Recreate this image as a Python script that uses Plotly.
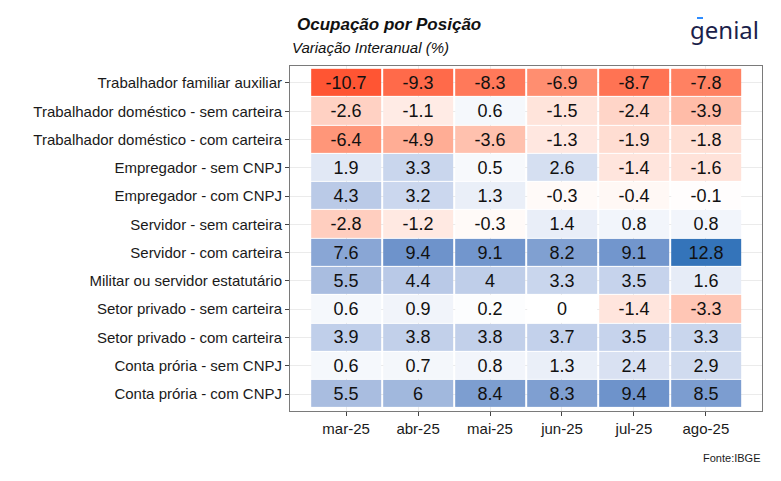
import plotly.graph_objects as go

months = ["mar-25", "abr-25", "mai-25", "jun-25", "jul-25", "ago-25"]

categories = [
    "Trabalhador familiar auxiliar",
    "Trabalhador doméstico - sem carteira",
    "Trabalhador doméstico - com carteira",
    "Empregador - sem CNPJ",
    "Empregador - com CNPJ",
    "Servidor - sem carteira",
    "Servidor - com carteira",
    "Militar ou servidor estatutário",
    "Setor privado - sem carteira",
    "Setor privado - com carteira",
    "Conta prória - sem CNPJ",
    "Conta prória - com CNPJ",
]

familiar_auxiliar = [-10.7, -9.3, -8.3, -6.9, -8.7, -7.8]
domestico_sem = [-2.6, -1.1, 0.6, -1.5, -2.4, -3.9]
domestico_com = [-6.4, -4.9, -3.6, -1.3, -1.9, -1.8]
empregador_sem = [1.9, 3.3, 0.5, 2.6, -1.4, -1.6]
empregador_com = [4.3, 3.2, 1.3, -0.3, -0.4, -0.1]
servidor_sem = [-2.8, -1.2, -0.3, 1.4, 0.8, 0.8]
servidor_com = [7.6, 9.4, 9.1, 8.2, 9.1, 12.8]
militar = [5.5, 4.4, 4, 3.3, 3.5, 1.6]
privado_sem = [0.6, 0.9, 0.2, 0, -1.4, -3.3]
privado_com = [3.9, 3.8, 3.8, 3.7, 3.5, 3.3]
conta_propria_sem = [0.6, 0.7, 0.8, 1.3, 2.4, 2.9]
conta_propria_com = [5.5, 6, 8.4, 8.3, 9.4, 8.5]

z = [familiar_auxiliar, domestico_sem, domestico_com, empregador_sem,
     empregador_com, servidor_sem, servidor_com, militar, privado_sem,
     privado_com, conta_propria_sem, conta_propria_com]
text = [[f"{v:g}" for v in row] for row in z]

lim = max(abs(v) for row in z for v in row)

colorscale = [
    [0.0, "#FF4A22"],
    [0.082, "#FF5533"],
    [0.23, "#FF8E70"],
    [0.348, "#FFBCA8"],
    [0.44, "#FFE3DA"],
    [0.5, "#FFFFFF"],
    [0.574, "#E1E8F5"],
    [0.637, "#C6D3EC"],
    [0.715, "#A9BDE0"],
    [0.867, "#6E93CB"],
    [1.0, "#3474BA"],
]

W, H = 781, 481
l, r, t, b = 290, 19, 66, 70
pw, ph = W - l - r, H - t - b


def px(x):
    return (x - l) / pw


def py(y):
    return 1 - (y - t) / ph


fig = go.Figure(go.Heatmap(
    x=months, y=categories, z=z, text=text, texttemplate="%{text}",
    textfont=dict(family="Liberation Sans, Arial", size=18, color="#111111"),
    colorscale=colorscale, zmin=-lim, zmax=lim, showscale=False,
    xgap=2, ygap=1, hoverinfo="skip",
))

fig.update_layout(
    width=W, height=H,
    margin=dict(l=l, r=r, t=t, b=b),
    paper_bgcolor="white", plot_bgcolor="white",
    font=dict(family="Liberation Sans, Arial", color="#1a1a1a"),
    xaxis=dict(
        range=[-0.78, len(months) - 0.22], showgrid=True, gridcolor="#EBEBEB",
        showline=True, linecolor="#7a7a7a", linewidth=1, mirror=True,
        ticks="outside", ticklen=4, tickcolor="#444444",
        tickfont=dict(size=15, color="#1a1a1a"), zeroline=False,
    ),
    yaxis=dict(
        range=[len(categories) - 0.4, -0.6], showgrid=True, gridcolor="#EBEBEB",
        showline=True, linecolor="#7a7a7a", linewidth=1, mirror=True,
        ticks="outside", ticklen=4, tickcolor="#444444",
        tickfont=dict(size=15, color="#1a1a1a"), zeroline=False,
    ),
)

fig.add_annotation(text="<b><i>Ocupação por Posição</i></b>", x=px(295), y=py(24),
                   xref="paper", yref="paper", xanchor="left", yanchor="middle",
                   showarrow=False, font=dict(size=17, color="#111111"))
fig.add_annotation(text="<i>Variação Interanual (%)</i>", x=px(290), y=py(47),
                   xref="paper", yref="paper", xanchor="left", yanchor="middle",
                   showarrow=False, font=dict(size=15, color="#111111"))
fig.add_annotation(text="genial", x=px(761), y=py(29),
                   xref="paper", yref="paper", xanchor="right", yanchor="middle",
                   showarrow=False, font=dict(family="Noto Sans", size=24, color="#1B1F4B"))
fig.add_annotation(text="Fonte:IBGE", x=px(762), y=py(458),
                   xref="paper", yref="paper", xanchor="right", yanchor="middle",
                   showarrow=False, font=dict(size=11, color="#1a1a1a"))
fig.add_shape(type="line", xref="paper", yref="paper",
              x0=px(697), x1=px(703), y0=py(18), y1=py(18),
              line=dict(color="#2D8CFF", width=2))

fig.write_html("out.html", config={"displayModeBar": False},
               post_script="document.body.style.margin='0';")
